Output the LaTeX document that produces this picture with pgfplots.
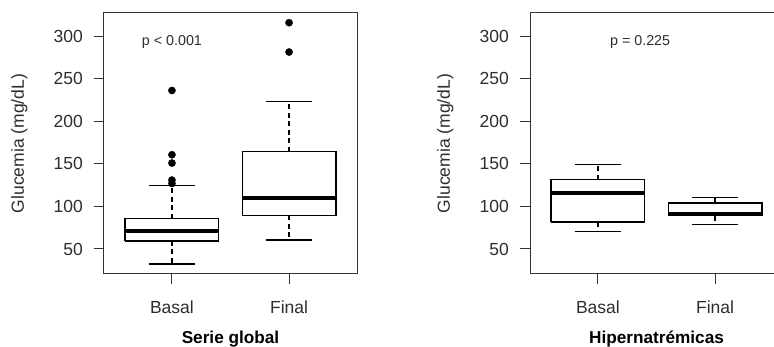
\documentclass[border=0pt]{standalone}
\usepackage{pgfplots}
\pgfplotsset{compat=1.18}
\usepackage{fontspec}
\setmainfont{Liberation Sans}
\definecolor{txt}{RGB}{45,45,45}
\definecolor{frm}{RGB}{50,50,50}
\tikzset{ptxt/.style={font=\fontsize{14.3}{17}\selectfont, text=txt, anchor=base, inner sep=0pt}}
\pgfplotsset{
  gluc/.style={
    scale only axis, width=253pt, height=261pt,
    xmin=0.42, xmax=2.58, ymin=20.6, ymax=327.4,
    xtick={1,2}, xticklabels={Basal,Final},
    ytick={50,100,150,200,250,300},
    xtick pos=left, ytick pos=left,
    tick align=outside, major tick length=10pt,
    axis line style={frm, line width=1pt},
    every tick/.style={frm, line width=1pt},
    /pgf/number format/assume math mode=true,
    ticklabel style={font=\fontsize{17.5}{20}\selectfont, text=txt},
    yticklabel style={anchor=east, inner xsep=0pt, xshift=-11pt},
    xticklabel style={anchor=base, inner ysep=0pt, yshift=-30pt},
    ylabel={Glucemia (mg/dL)},
    ylabel style={at={(axis description cs:-0.335,0.5)}, anchor=center, font=\fontsize{17.5}{20}\selectfont, text=txt},
    xlabel style={at={(axis description cs:0.5,-0.2644)}, anchor=base, inner sep=0pt, font=\fontsize{17.2}{20}\selectfont\bfseries, text=black},
    clip=true,
  },
  boxln/.style={black, line width=1.3pt, mark=none},
  medln/.style={black, line width=4pt, mark=none},
  whisk/.style={black, line width=1.2pt, dash pattern=on 5pt off 3.5pt, mark=none},
  outl/.style={only marks, mark=*, mark size=3.6pt, black},
}
\begin{document}
\begin{tikzpicture}
% ---------- Left panel: Serie global ----------
\begin{axis}[gluc, at={(104pt,73pt)}, anchor=south west, xlabel={Serie global}]
  % Basal
  \addplot[boxln] coordinates {(0.6,59.4) (1.4,59.4) (1.4,85.8) (0.6,85.8) (0.6,59.4)};
  \addplot[medln] coordinates {(0.6,71.2) (1.4,71.2)};
  \addplot[whisk] coordinates {(1,85.8) (1,124.3)};
  \addplot[whisk] coordinates {(1,59.4) (1,32.3)};
  \addplot[boxln] coordinates {(0.8,124.3) (1.2,124.3)};
  \addplot[boxln] coordinates {(0.8,32.3) (1.2,32.3)};
  \addplot[outl] coordinates {(1,127) (1,131) (1,151) (1,160.8) (1,236.3)};
  % Final
  \addplot[boxln] coordinates {(1.6,89.7) (2.4,89.7) (2.4,164.4) (1.6,164.4) (1.6,89.7)};
  \addplot[medln] coordinates {(1.6,109.8) (2.4,109.8)};
  \addplot[whisk] coordinates {(2,164.4) (2,223)};
  \addplot[whisk] coordinates {(2,89.7) (2,60.6)};
  \addplot[boxln] coordinates {(1.8,223) (2.2,223)};
  \addplot[boxln] coordinates {(1.8,60.6) (2.2,60.6)};
  \addplot[outl] coordinates {(2,281.5) (2,316)};
  \node[ptxt] at (axis cs:1,289.7) {p < 0.001};
\end{axis}
% ---------- Right panel: Hipernatremicas ----------
\begin{axis}[gluc, at={(530pt,73pt)}, anchor=south west, xlabel={Hipernatrémicas}]
  % Basal
  \addplot[boxln] coordinates {(0.6,81.6) (1.4,81.6) (1.4,131.3) (0.6,131.3) (0.6,81.6)};
  \addplot[medln] coordinates {(0.6,115.6) (1.4,115.6)};
  \addplot[whisk] coordinates {(1,131.3) (1,149.5)};
  \addplot[whisk] coordinates {(1,81.6) (1,70.7)};
  \addplot[boxln] coordinates {(0.8,149.5) (1.2,149.5)};
  \addplot[boxln] coordinates {(0.8,70.7) (1.2,70.7)};
  % Final
  \addplot[boxln] coordinates {(1.6,89.1) (2.4,89.1) (2.4,103.9) (1.6,103.9) (1.6,89.1)};
  \addplot[medln] coordinates {(1.6,91.4) (2.4,91.4)};
  \addplot[whisk] coordinates {(2,103.9) (2,110.5)};
  \addplot[whisk] coordinates {(2,89.1) (2,78.9)};
  \addplot[boxln] coordinates {(1.8,110.5) (2.2,110.5)};
  \addplot[boxln] coordinates {(1.8,78.9) (2.2,78.9)};
  \node[ptxt] at (axis cs:1.36,289.7) {p = 0.225};
\end{axis}
\pgfresetboundingbox
\path[use as bounding box] (0,0) rectangle (774pt,347pt);
\end{tikzpicture}
\end{document}
